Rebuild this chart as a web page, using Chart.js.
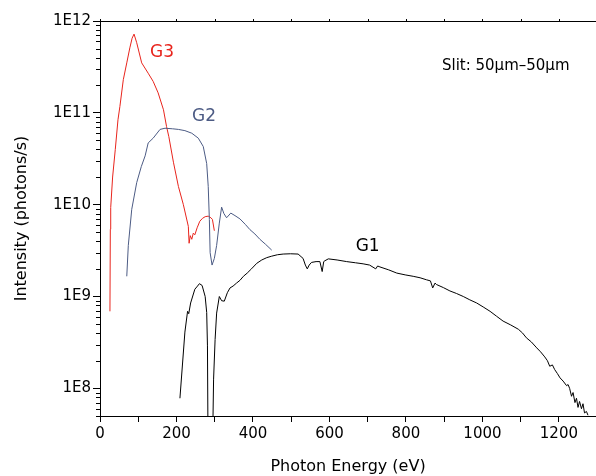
<!DOCTYPE html>
<html>
<head>
<meta charset="utf-8">
<script src="https://cdn.jsdelivr.net/npm/chart.js@4"></script>
<style>
html, body { margin: 0; padding: 0; background: #fff; }
#wrap { width: 596px; height: 476px; }
</style>
</head>
<body>
<div id="wrap"><canvas id="myChart" width="596" height="476"></canvas></div>
<script>
// Photon energy (eV) / intensity (photons/s)
const g3Energy = [26, 27, 28, 33, 40, 47, 52, 61, 70, 78, 84, 89, 96, 109, 126, 139, 152, 166, 174, 180, 192, 205, 218, 231, 233, 236, 240, 244, 248, 254, 261, 268, 275, 283, 290, 294, 299];
const g3Intensity = [6.9e8, 5.4e9, 9.3e9, 2.0e10, 4.0e10, 8.4e10, 1.17e11, 2.3e11, 3.5e11, 5.1e11, 6.5e11, 7.2e11, 5.8e11, 3.5e11, 2.7e11, 2.2e11, 1.65e11, 1.08e11, 7.1e10, 5.5e10, 2.9e10, 1.58e10, 1.0e10, 5.8e9, 3.8e9, 4.6e9, 4.2e9, 4.9e9, 4.7e9, 5.6e9, 6.6e9, 7.1e9, 7.4e9, 7.5e9, 7.2e9, 6.9e9, 5.2e9];

const g2Energy = [70, 74, 83, 96, 108, 118, 126, 139, 157, 170, 190, 205, 222, 240, 257, 270, 279, 283, 286, 288, 293, 299, 305, 312, 318, 324, 331, 342, 353, 366, 380, 392, 405, 418, 433, 449];
const g2Intensity = [1.66e9, 3.6e9, 8.9e9, 1.74e10, 2.6e10, 3.4e10, 4.7e10, 5.3e10, 6.6e10, 6.8e10, 6.7e10, 6.6e10, 6.4e10, 6.0e10, 5.3e10, 4.3e10, 2.8e10, 1.58e10, 6.9e9, 3.0e9, 2.2e9, 2.6e9, 3.6e9, 6.3e9, 9.4e9, 8.0e9, 7.2e9, 8.1e9, 7.6e9, 7.0e9, 6.1e9, 5.35e9, 4.8e9, 4.2e9, 3.7e9, 3.2e9];

const g1Energy = [209, 222, 229, 232, 237, 248, 255, 260, 267, 275, 279, 281, 283, 293, 297, 301, 305, 312, 318, 325, 333, 340, 348, 357, 366, 375, 385, 396, 410, 423, 436, 449, 464, 479, 498, 518, 531, 537, 542, 547, 553, 565, 575, 581, 585, 588, 597, 620, 645, 668, 688, 705, 721, 726, 732, 755, 776, 798, 819, 837, 854, 864, 870, 876, 880, 898, 915, 932, 950, 967, 985, 1002, 1020, 1037, 1054, 1074, 1094, 1105, 1115, 1128, 1142, 1152, 1163, 1170, 1176, 1183, 1189, 1196, 1203, 1211, 1220, 1224, 1228, 1233, 1237, 1242, 1246, 1250, 1254, 1259, 1263, 1267, 1272, 1276];
const g1Intensity = [7.8e7, 4.1e8, 6.9e8, 6.5e8, 8.5e8, 1.2e9, 1.3e9, 1.38e9, 1.32e9, 1.0e9, 6.7e8, 2.9e8, 1e7, 1e7, 1.26e8, 3.4e8, 6.6e8, 1.0e9, 9.0e8, 8.9e8, 1.1e9, 1.24e9, 1.3e9, 1.4e9, 1.5e9, 1.66e9, 1.8e9, 2.0e9, 2.3e9, 2.5e9, 2.65e9, 2.75e9, 2.85e9, 2.9e9, 2.92e9, 2.9e9, 2.6e9, 2.2e9, 2.0e9, 2.2e9, 2.35e9, 2.4e9, 2.4e9, 1.87e9, 2.4e9, 2.45e9, 2.57e9, 2.5e9, 2.4e9, 2.33e9, 2.27e9, 2.2e9, 2.0e9, 2.15e9, 2.1e9, 1.95e9, 1.8e9, 1.72e9, 1.66e9, 1.6e9, 1.52e9, 1.48e9, 1.24e9, 1.4e9, 1.35e9, 1.25e9, 1.15e9, 1.08e9, 1.0e9, 9.2e8, 8.5e8, 7.7e8, 6.9e8, 6.1e8, 5.4e8, 4.9e8, 4.4e8, 4.0e8, 3.55e8, 3.2e8, 2.76e8, 2.5e8, 2.2e8, 2.0e8, 1.74e8, 1.8e8, 1.6e8, 1.45e8, 1.3e8, 1.2e8, 1.07e8, 1.1e8, 1.0e8, 8.2e7, 9.0e7, 7.0e7, 7.8e7, 6.2e7, 7.2e7, 6.0e7, 6.8e7, 5.4e7, 5.6e7, 5.1e7];

const xTickValues = [0, 100, 200, 300, 400, 500, 600, 700, 800, 900, 1000, 1100, 1200];
const yTickValues = [1e8, 1e9, 1e10, 1e11, 1e12];

// Beschriftungen im Diagramm: [Text, Energie, Intensität, Farbe, Schriftgröße]
const curveLabels = [
['G3', 162, 4.5e11, '#e8241c', 17],
['G2', 272, 9.0e10, '#4c5b84', 17],
['G1', 700, 3.5e9, '#000000', 17],
['Slit: 50\u03bcm\u201350\u03bcm', 1061, 3.2e11, '#000000', 15]
];

const fontFamily = "'DejaVu Sans', 'Noto Sans', sans-serif";

function toPoints(xs, ys) {
return xs.map((x, i) => ({ x: x, y: ys[i] }));
}

const frameAndMinorTicks = {
id: 'frameAndMinorTicks',
afterDraw(chart) {
const ctx = chart.ctx;
const area = chart.chartArea;
const xs = chart.scales.x;
const ys = chart.scales.y;
ctx.save();
ctx.strokeStyle = '#000';
ctx.lineWidth = 1;
ctx.beginPath();
// Rahmen oben
ctx.moveTo(area.left, area.top + 0.5);
ctx.lineTo(area.right, area.top + 0.5);
xTickValues.forEach(v => {
const px = Math.round(xs.getPixelForValue(v)) + 0.5;
ctx.moveTo(px, area.top);
ctx.lineTo(px, area.top - 2);
});
// Nebenstriche auf der log-Achse
for (let d = 7; d < 12; d++) {
for (let k = 2; k <= 9; k++) {
const v = k * Math.pow(10, d);
if (v < ys.min || v > ys.max) continue;
const py = Math.round(ys.getPixelForValue(v)) + 0.5;
ctx.moveTo(area.left - 4, py);
ctx.lineTo(area.left, py);
}
}
ctx.stroke();
// Kurvenbeschriftungen
ctx.textAlign = 'center';
ctx.textBaseline = 'middle';
curveLabels.forEach(l => {
ctx.fillStyle = l[3];
ctx.font = l[4] + 'px ' + fontFamily;
ctx.fillText(l[0], xs.getPixelForValue(l[1]), ys.getPixelForValue(l[2]));
});
ctx.restore();
}
};

const config = {
type: 'line',
data: {
datasets: [
{ label: 'G1', data: toPoints(g1Energy, g1Intensity), borderColor: '#000000', borderWidth: 1, pointRadius: 0, tension: 0 },
{ label: 'G2', data: toPoints(g2Energy, g2Intensity), borderColor: '#4c5b84', borderWidth: 1, pointRadius: 0, tension: 0 },
{ label: 'G3', data: toPoints(g3Energy, g3Intensity), borderColor: '#e8241c', borderWidth: 1, pointRadius: 0, tension: 0 }
]
},
options: {
responsive: false,
animation: false,
layout: { padding: { top: 21, right: 0, left: 0, bottom: 0 } },
plugins: { legend: { display: false }, tooltip: { enabled: false } },
scales: {
x: {
type: 'linear',
min: 0,
max: 1297,
border: { display: true, color: '#000', width: 1 },
grid: { drawOnChartArea: false, drawTicks: true, tickLength: 6, color: '#000' },
afterBuildTicks: scale => { scale.ticks = xTickValues.map(v => ({ value: v })); },
afterFit: scale => { scale.height = 60; },
ticks: {
autoSkip: false,
maxRotation: 0,
color: '#000',
padding: 3,
font: { family: fontFamily, size: 15 },
callback: v => (v % 200 === 0 ? String(v) : '')
},
title: {
display: true,
text: 'Photon Energy (eV)',
color: '#000',
font: { family: fontFamily, size: 16 },
padding: { top: 5, bottom: 0 }
}
},
y: {
type: 'logarithmic',
min: 5e7,
max: 1e12,
border: { display: true, color: '#000', width: 1 },
grid: { drawOnChartArea: false, drawTicks: true, tickLength: 7, color: '#000' },
afterBuildTicks: scale => { scale.ticks = yTickValues.map(v => ({ value: v })); },
afterFit: scale => { scale.width = 100; },
ticks: {
autoSkip: false,
color: '#000',
padding: 2,
font: { family: fontFamily, size: 15 },
callback: v => '1E' + Math.round(Math.log10(v))
},
title: {
display: true,
text: 'Intensity (photons/s)',
color: '#000',
font: { family: fontFamily, size: 16 },
padding: { top: 12, bottom: 0 }
}
}
}
},
plugins: [frameAndMinorTicks]
};

new Chart(document.getElementById('myChart'), config);
</script>
</body>
</html>
